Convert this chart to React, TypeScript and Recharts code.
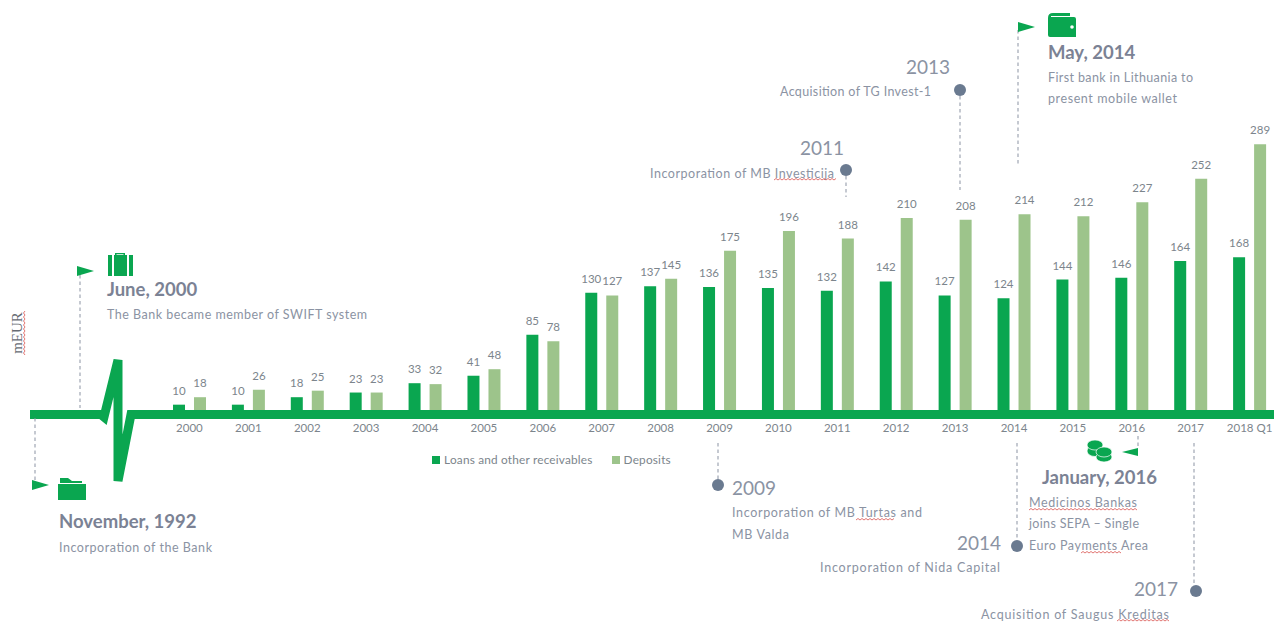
import { BarChart, Bar, XAxis, YAxis, Legend, LabelList } from 'recharts';

const years = ['2000', '2001', '2002', '2003', '2004', '2005', '2006', '2007', '2008', '2009', '2010', '2011', '2012', '2013', '2014', '2015', '2016', '2017', '2018 Q1'];
const loans = [10, 10, 18, 23, 33, 41, 85, 130, 137, 136, 135, 132, 142, 127, 124, 144, 146, 164, 168];
const deposits = [18, 26, 25, 23, 32, 48, 78, 127, 145, 175, 196, 188, 210, 208, 214, 212, 227, 252, 289];

const data = years.map((year, i) => ({ year, loans: loans[i], deposits: deposits[i] }));

const GREEN = '#0aa650';
const LIGHT = '#9dc48b';
const TEXT = '#8b93a3';
const HEAD = '#7b8294';
const PIN = '#6a7a90';
const RED = '#d9534f';
const FONT = 'Lato, sans-serif';

const squiggle = (x0: number, x1: number, y: number) => {
  let d = `M${x0} ${y}`;
  for (let x = x0 + 2, up = true; x <= x1; x += 2, up = !up) d += ` L${x} ${up ? y - 1.5 : y}`;
  return d;
};

const squiggleV = (y0: number, y1: number, x: number) => {
  let d = `M${x} ${y0}`;
  for (let y = y0 + 2, up = true; y <= y1; y += 2, up = !up) d += ` L${up ? x - 1.5 : x} ${y}`;
  return d;
};

const Note = ({ x, y, w, children, end }: { x: number; y: number; w?: number; children: string; end?: boolean }) => (
  <text
    x={x}
    y={y}
    fill={TEXT}
    fontSize={12.5}
    letterSpacing={w ? undefined : 0.35}
    textLength={w}
    dominantBaseline="central"
    textAnchor={end ? 'end' : 'start'}
  >
    {children}
  </text>
);

const Heading = ({ x, y, children }: { x: number; y: number; children: string }) => (
  <text x={x} y={y} fill={HEAD} fontSize={18.5} fontWeight={700} dominantBaseline="central">
    {children}
  </text>
);

const Year = ({ x, y, children, end }: { x: number; y: number; children: string; end?: boolean }) => (
  <text x={x} y={y} fill={TEXT} fontSize={19} dominantBaseline="central" textAnchor={end ? 'end' : 'start'}>
    {children}
  </text>
);

const Leader = ({ x, y1, y2 }: { x: number; y1: number; y2: number }) => (
  <line x1={x} x2={x} y1={y1} y2={y2} stroke={TEXT} strokeWidth={1} strokeDasharray="3.5 3" />
);

const Flag = ({ x, y, left }: { x: number; y: number; left?: boolean }) => (
  <polygon points={left ? `${x},${y - 4} ${x},${y + 4} ${x - 16},${y}` : `${x},${y - 5} ${x},${y + 5} ${x + 17},${y}`} fill={GREEN} />
);

const Wave = ({ d }: { d: string }) => <path d={d} fill="none" stroke={RED} strokeWidth={0.8} />;

function Annotations() {
  return (
    <svg width={1274} height={622} style={{ position: 'absolute', left: 0, top: 0, fontFamily: FONT }}>
      {/* timeline with the pulse */}
      <polyline
        points="30,414.5 101,414.5 104,417 118,360 118,481 131,414.5 1274,414.5"
        fill="none"
        stroke={GREEN}
        strokeWidth={9}
        strokeLinejoin="miter"
        strokeMiterlimit={2}
      />

      <text x={17} y={333} fill="#666b73" fontSize={15} fontFamily="Liberation Serif, serif" textAnchor="middle" dominantBaseline="central" transform="rotate(-90 17 333)">
        mEUR
      </text>
      <Wave d={squiggleV(311, 355, 25)} />

      {/* June 2000 */}
      <Leader x={80} y1={275} y2={408} />
      <Flag x={77} y={271} />
      <g fill={GREEN}>
        <rect x={108} y={255} width={4} height={21} />
        <rect x={114} y={255} width={13} height={21} />
        <rect x={129} y={255} width={4} height={21} />
        <path d="M115 255 v-2 h10 v2 h-1.5 v-0.8 h-7 v0.8z" />
      </g>
      <Heading x={107} y={289}>June, 2000</Heading>
      <Note x={107} y={314} w={260}>The Bank became member of SWIFT system</Note>

      {/* November 1992 */}
      <Leader x={35} y1={418} y2={480} />
      <Flag x={32} y={485} />
      <g fill={GREEN}>
        <path d="M58 484 h28 v16 h-28z" />
        <path d="M60 478 h8 l4 3 h10 v2 h-22z" />
      </g>
      <Heading x={59} y={521}>November, 1992</Heading>
      <Note x={59} y={547} w={153}>Incorporation of the Bank</Note>

      {/* 2009 */}
      <Leader x={718} y1={443} y2={480} />
      <circle cx={718} cy={485} r={6} fill={PIN} />
      <Year x={732} y={487}>2009</Year>
      <Note x={732} y={512} w={190}>Incorporation of MB Turtas  and</Note>
      <Note x={732} y={534} w={57}>MB Valda</Note>
      <Wave d={squiggle(856, 895, 520)} />

      {/* 2011 */}
      <Leader x={846} y1={176} y2={197} />
      <circle cx={846} cy={170} r={6} fill={PIN} />
      <Year x={800} y={147}>2011</Year>
      <Note x={650} y={173} w={184}>Incorporation of MB Investicija</Note>
      <Wave d={squiggle(774, 836, 180)} />

      {/* 2013 */}
      <Leader x={960} y1={96} y2={190} />
      <circle cx={960} cy={90} r={6} fill={PIN} />
      <Year x={906} y={66}>2013</Year>
      <Note x={780} y={91} w={151}>Acquisition of TG Invest-1</Note>

      {/* May 2014 */}
      <Leader x={1018} y1={30} y2={165} />
      <Flag x={1018} y={27} />
      <path d="M1048 18 q0 -5 5 -5 h17 v3 h-19 v1 h23 q2 0 2 2 v18 h-26 q-2 0 -2 -2z" fill={GREEN} />
      <circle cx={1072} cy={27} r={1.8} fill="#fff" />
      <Heading x={1048} y={52}>May, 2014</Heading>
      <Note x={1048} y={77} w={145}>First bank in Lithuania to</Note>
      <Note x={1048} y={98} w={129}>present mobile wallet</Note>

      {/* 2014 lower */}
      <Leader x={1017} y1={443} y2={540} />
      <circle cx={1017} cy={546} r={6} fill={PIN} />
      <Year x={1001} y={542} end>2014</Year>
      <Note x={820} y={567} w={180}>Incorporation of Nida Capital</Note>

      {/* January 2016 */}
      <Leader x={1138} y1={436} y2={448} />
      <Flag x={1138} y={452} left />
      <g fill={GREEN} stroke="#fff" strokeWidth={0.7}>
        <ellipse cx={1095} cy={451} rx={8} ry={5.5} />
        <ellipse cx={1095} cy={445} rx={8} ry={5} />
        <ellipse cx={1104} cy={457} rx={8} ry={5} />
        <ellipse cx={1104} cy={452} rx={8} ry={5} />
      </g>
      <Heading x={1042} y={477}>January, 2016</Heading>
      <Note x={1029} y={502} w={108}>Medicinos Bankas</Note>
      <Wave d={squiggle(1029, 1138, 510)} />
      <Note x={1029} y={523} w={110}>joins SEPA – Single</Note>
      <Note x={1029} y={545} w={119}>Euro Payments Area</Note>
      <Wave d={squiggle(1081, 1121, 553)} />

      {/* 2017 */}
      <Leader x={1194} y1={443} y2={585} />
      <circle cx={1196} cy={591} r={6} fill={PIN} />
      <Year x={1178} y={588} end>2017</Year>
      <Note x={981} y={614} w={188}>Acquisition of Saugus Kreditas</Note>
      <Wave d={squiggle(1117, 1169, 621)} />
    </svg>
  );
}

export default function App() {
  return (
    <div style={{ position: 'absolute', left: 0, top: 0, width: 1274, height: 622, overflow: 'hidden', background: '#fff', fontFamily: FONT }}>
      <BarChart
        width={1290}
        height={622}
        data={data}
        margin={{ top: 134, right: 11, bottom: 178, left: 160 }}
        barSize={12}
        barGap={9}
      >
        <XAxis
          dataKey="year"
          axisLine={false}
          tickLine={false}
          interval={0}
          tickMargin={4}
          tick={{ fill: '#7c858c', fontSize: 11.5 }}
        />
        <YAxis hide domain={[0, 300]} />
        <Legend
          layout="horizontal"
          align="center"
          verticalAlign="middle"
          iconType="square"
          iconSize={8}
          itemSorter={null}
          formatter={(value) => <span style={{ color: '#7c858c', fontSize: 11.8, letterSpacing: 0.2, marginRight: 9 }}>{value}</span>}
          wrapperStyle={{ position: 'absolute', left: 429, top: 448, width: 264, bottom: 'auto', right: 'auto' }}
        />
        <Bar dataKey="loans" name="Loans and other receivables" fill={GREEN} isAnimationActive={false}>
          <LabelList dataKey="loans" position="top" offset={10} fill="#7c858c" fontSize={11.5} />
        </Bar>
        <Bar dataKey="deposits" name="Deposits" fill={LIGHT} isAnimationActive={false}>
          <LabelList dataKey="deposits" position="top" offset={10} fill="#7c858c" fontSize={11.5} />
        </Bar>
      </BarChart>
      <Annotations />
    </div>
  );
}
